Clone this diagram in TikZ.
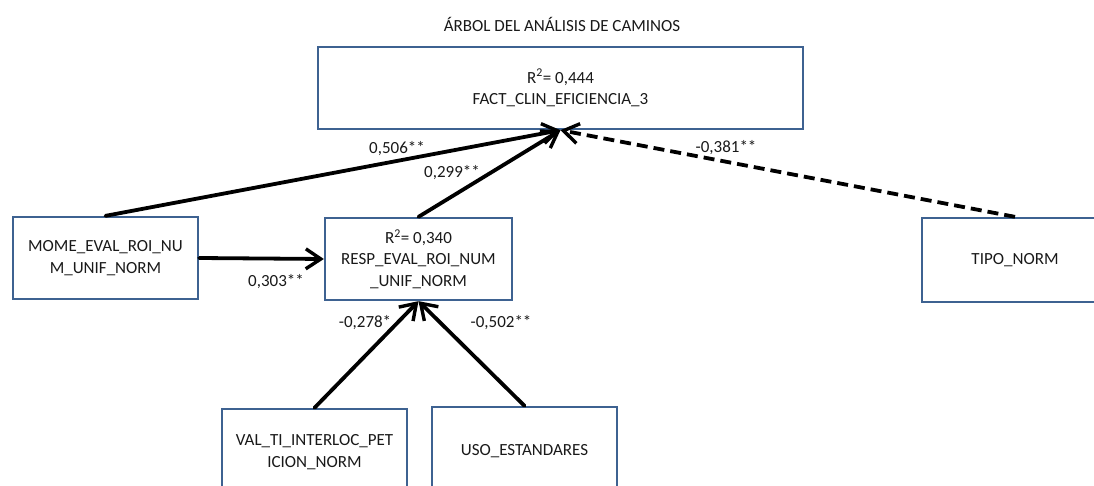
\documentclass[tikz,border=0pt]{standalone}
\usepackage{fontspec}
\setmainfont{Carlito}
\usetikzlibrary{arrows.meta}
\definecolor{boxblue}{RGB}{62,98,145}
\definecolor{txt}{RGB}{25,25,25}
\begin{document}
\begin{tikzpicture}[x=1pt,y=-1pt,
  every node/.style={font=\fontsize{17}{21.5}\selectfont, text=txt},
  varbox/.style={draw=boxblue, line width=2.3pt, fill=white, align=center, inner sep=0pt},
  path/.style={line width=3.8pt, line cap=round, -{Straight Barb[length=15pt,width=20pt,line width=3.4pt]}},
  dpath/.style={path, line cap=butt, dash pattern=on 11pt off 6pt},
  lbl/.style={inner sep=0pt, fill=none}]
\useasboundingbox (0,0) rectangle (1094,486);
\node[lbl] (title) at (562,24) {ÁRBOL DEL ANÁLISIS DE CAMINOS};
\node[varbox, minimum width=485pt, minimum height=82pt] (top) at (560.5,88) {R\textsuperscript{2}= 0,444\\FACT\_CLIN\_EFICIENCIA\_3};
\node[varbox, minimum width=185pt, minimum height=82pt] (mome) at (105.5,258) {MOME\_EVAL\_ROI\_NU\\M\_UNIF\_NORM};
\node[varbox, minimum width=187pt, minimum height=82pt] (resp) at (418.5,259) {R\textsuperscript{2}= 0,340\\RESP\_EVAL\_ROI\_NUM\\\_UNIF\_NORM};
\node[varbox, minimum width=185pt, minimum height=86pt] (val) at (314.5,452) {VAL\_TI\_INTERLOC\_PET\\ICION\_NORM};
\node[varbox, minimum width=185pt, minimum height=88pt] (uso) at (524.5,451) {USO\_ESTANDARES};
\node[varbox, minimum width=186pt, minimum height=84pt] (tipo) at (1015,260) {TIPO\_NORM};
\draw[path] (mome.north) -- (top.south);
\draw[path] (resp.north) -- (top.south);
\draw[dpath] (tipo.north) -- (top.south);
\draw[path] (mome.east) -- (resp.west);
\draw[path] (val.north) -- (resp.south);
\draw[path] (uso.north) -- (resp.south);
\node[lbl] (l506) at (397,149) {0,506**};
\node[lbl] (l299) at (452,173) {0,299**};
\node[lbl] (l303) at (276,282) {0,303**};
\node[lbl] (l278) at (365,323) {-0,278*};
\node[lbl] (l502) at (501,323) {-0,502**};
\node[lbl] (l381) at (726,148) {-0,381**};
\end{tikzpicture}
\end{document}
